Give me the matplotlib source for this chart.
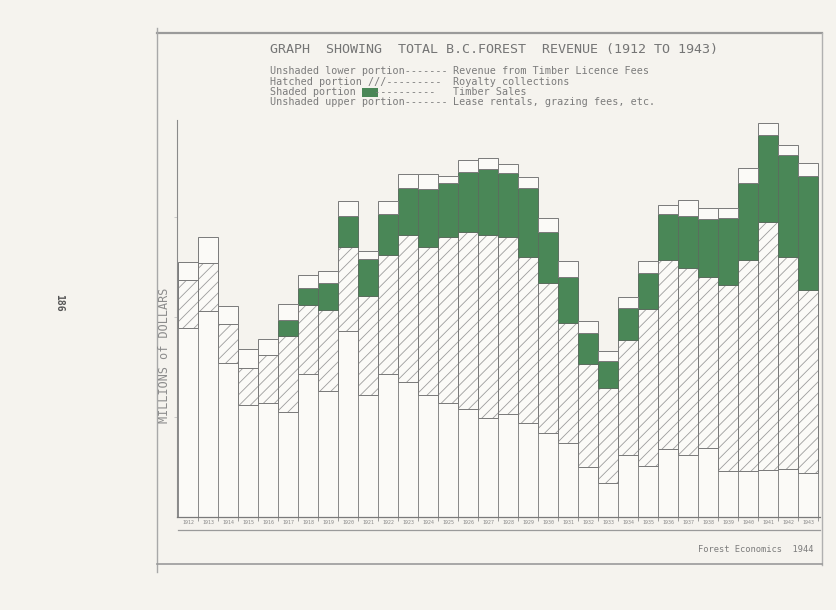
import matplotlib
matplotlib.use('agg')
import numpy as np
import matplotlib.pyplot as plt
from matplotlib.patches import Rectangle
from matplotlib.lines import Line2D

# revenue in millions of dollars
years = list(range(1912, 1944))
licence = [1.89, 2.06, 1.54, 1.12, 1.14, 1.05, 1.43, 1.26, 1.86, 1.22,
           1.43, 1.35, 1.22, 1.14, 1.08, 0.99, 1.03, 0.94, 0.84, 0.74,
           0.50, 0.34, 0.62, 0.51, 0.68, 0.62, 0.69, 0.46, 0.46, 0.47,
           0.48, 0.44]
royalty = [0.48, 0.48, 0.39, 0.37, 0.48, 0.76, 0.69, 0.81, 0.84, 0.99,
           1.19, 1.47, 1.48, 1.66, 1.77, 1.83, 1.77, 1.66, 1.50, 1.20,
           1.03, 0.95, 1.15, 1.57, 1.89, 1.87, 1.71, 1.86, 2.11, 2.48,
           2.12, 1.83]
sales = [0.00, 0.00, 0.00, 0.00, 0.00, 0.16, 0.17, 0.27, 0.31, 0.37,
         0.41, 0.47, 0.58, 0.54, 0.60, 0.66, 0.64, 0.69, 0.51, 0.46,
         0.31, 0.27, 0.32, 0.36, 0.46, 0.52, 0.58, 0.67, 0.77, 0.87,
         1.02, 1.14]
other = [0.18, 0.26, 0.18, 0.19, 0.16, 0.16, 0.13, 0.12, 0.15, 0.08,
         0.13, 0.14, 0.15, 0.07, 0.12, 0.11, 0.09, 0.11, 0.14, 0.16,
         0.12, 0.10, 0.11, 0.12, 0.09, 0.16, 0.11, 0.10, 0.15, 0.12,
         0.10, 0.13]

W, H = 836, 610
paper = '#f5f3ee'
ink = '#7c7c7c'
green = '#4a8757'

plt.rcParams['hatch.linewidth'] = 0.6


def fx(px):
    return px / W


def fy(py):
    return 1 - py / H


fig = plt.figure(figsize=(W / 100, H / 100), dpi=100, facecolor=paper)

# frame of the drawing
fig.add_artist(Line2D([fx(157), fx(822)], [fy(33), fy(33)], color='#9a9a9a', lw=1.6))
fig.add_artist(Line2D([fx(157), fx(157)], [fy(28), fy(572)], color='#a8a8a8', lw=1.0))
fig.add_artist(Line2D([fx(822), fx(822)], [fy(33), fy(565)], color='#b0b0b0', lw=1.0))
fig.add_artist(Line2D([fx(157), fx(822)], [fy(564), fy(564)], color='#9a9a9a', lw=1.2))
fig.add_artist(Line2D([fx(178), fx(820)], [fy(530), fy(530)], color='#9a9a9a', lw=0.9))

ax = fig.add_axes([fx(177), fy(517), (820 - 177) / W, (517 - 120) / H])
ax.set_facecolor('none')

x = np.arange(len(years))
lic = np.array(licence)
roy = np.array(royalty)
sal = np.array(sales)
oth = np.array(other)

ax.bar(x, lic, width=1.0, color='#fbfaf7', edgecolor='#8a8a8a', linewidth=0.7)
ax.bar(x, roy, width=1.0, bottom=lic, color='#fbfaf7', edgecolor='#9c9c9c',
       hatch='///', linewidth=0.7)
ax.bar(x, roy, width=1.0, bottom=lic, color='none', edgecolor='#7a7a7a', linewidth=0.7)
ax.bar(x, sal, width=1.0, bottom=lic + roy, color=green, edgecolor='#5a6e5e', linewidth=0.7)
ax.bar(x, oth, width=1.0, bottom=lic + roy + sal, color='#fbfaf7', edgecolor='#7a7a7a',
       linewidth=0.7)

ax.set_xlim(-0.55, 31.6)
ax.set_ylim(0, 3.97)
for s in ['top', 'right']:
    ax.spines[s].set_visible(False)
ax.spines['left'].set_color('#8a8a8a')
ax.spines['bottom'].set_color('#7a7a7a')
ax.spines['left'].set_linewidth(0.8)
ax.spines['bottom'].set_linewidth(0.9)

ax.set_xticks(x)
ax.set_xticklabels([str(y) for y in years], fontsize=3.6, color='#8a8a8a',
                   family='DejaVu Sans Mono')
ax.tick_params(axis='x', length=0, pad=2.5)
ax.set_xticks(x + 0.5, minor=True)
ax.tick_params(axis='x', which='minor', length=3, color='#8a8a8a', width=0.6)
ax.set_yticks([1, 2, 3])
ax.set_yticklabels([])
ax.tick_params(axis='y', length=2.5, color='#c4c4c4', width=0.6)

# title and key
mono = 'DejaVu Sans Mono'
fig.text(fx(494), fy(49), 'GRAPH  SHOWING  TOTAL B.C.FOREST  REVENUE (1912 TO 1943)',
         ha='center', va='center', fontsize=9.6, color='#757575', family=mono)
key_rows = [
    (71, 'Unshaded lower portion-------', 'Revenue from Timber Licence Fees'),
    (82, 'Hatched portion ///---------', 'Royalty collections'),
    (92, 'Shaded portion   ----------', 'Timber Sales'),
    (102, 'Unshaded upper portion-------', 'Lease rentals, grazing fees, etc.'),
]
for py, left, right in key_rows:
    fig.text(fx(270), fy(py), left, ha='left', va='center', fontsize=7.3,
             color=ink, family=mono)
    fig.text(fx(453), fy(py), right, ha='left', va='center', fontsize=7.3,
             color=ink, family=mono)
fig.add_artist(Rectangle((fx(362), fy(97)), 16 / W, 9 / H, transform=fig.transFigure,
                         facecolor=green, edgecolor='none'))

fig.text(fx(165), fy(355), 'MILLIONS of DOLLARS', rotation=90, ha='center', va='center',
         fontsize=8.5, color='#8c8c8c', family=mono)
fig.text(fx(813), fy(550), 'Forest Economics  1944', ha='right', va='center',
         fontsize=6.3, color=ink, family=mono)
fig.text(fx(59), fy(303), '186', rotation=270, ha='center', va='center',
         fontsize=7, color='#555555', family=mono, fontweight='bold')

fig.savefig('out.png', dpi=100, facecolor=paper)
